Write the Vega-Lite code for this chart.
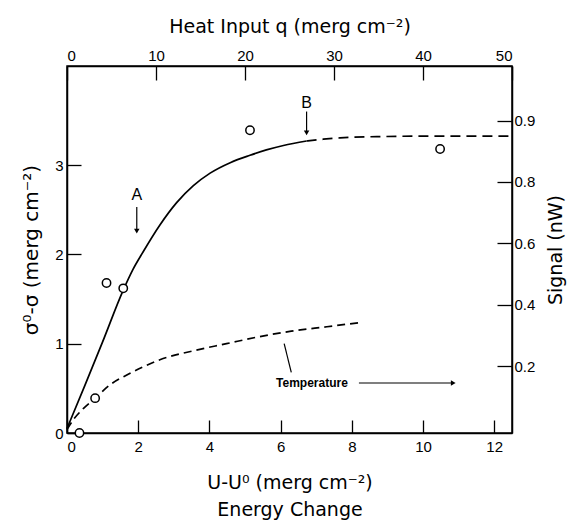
{
  "$schema": "https://vega.github.io/schema/vega-lite/v6.json",
  "autosize": "none",
  "padding": {"left": 67, "top": 66, "right": 62, "bottom": 90},
  "width": 445,
  "height": 367,
  "background": "white",
  "config": {
    "view": {"stroke": "black", "strokeWidth": 1.5},
    "font": "Liberation Sans",
    "axis": {
      "domainColor": "black", "domainWidth": 1.5, "tickColor": "black", "tickWidth": 1.3,
      "grid": false, "labelColor": "black", "titleColor": "black",
      "labelFont": "Liberation Sans", "titleFont": "DejaVu Sans",
      "labelFontSize": 15, "titleFontSize": 19, "titleFontWeight": "normal"
    }
  },
  "datasets": {
    "circles": [
      {"u": 0.35, "s": 0}, {"u": 0.79, "s": 0.39}, {"u": 1.11, "s": 1.68},
      {"u": 1.58, "s": 1.62}, {"u": 5.14, "s": 3.39}, {"u": 10.48, "s": 3.18}
    ],
    "solid": [
      {"u": 0, "s": 0.05}, {"u": 0.5, "s": 0.53}, {"u": 1.0, "s": 1.02}, {"u": 1.58, "s": 1.6},
      {"u": 1.85, "s": 1.83}, {"u": 2.14, "s": 2.03}, {"u": 2.61, "s": 2.33}, {"u": 3.08, "s": 2.58},
      {"u": 3.55, "s": 2.77}, {"u": 4.02, "s": 2.91}, {"u": 4.6, "s": 3.03}, {"u": 5.14, "s": 3.11},
      {"u": 5.6, "s": 3.17}, {"u": 6.08, "s": 3.22}, {"u": 6.73, "s": 3.27}
    ],
    "plateau": [
      {"u": 6.73, "s": 3.27}, {"u": 7.2, "s": 3.29}, {"u": 7.67, "s": 3.305}, {"u": 8.88, "s": 3.32},
      {"u": 10.28, "s": 3.325}, {"u": 12.5, "s": 3.325}
    ],
    "temperature": [
      {"u": 0, "s": 0.04}, {"u": 0.2, "s": 0.16}, {"u": 0.45, "s": 0.27}, {"u": 0.79, "s": 0.39},
      {"u": 1.21, "s": 0.54}, {"u": 1.68, "s": 0.65}, {"u": 2.14, "s": 0.74}, {"u": 2.61, "s": 0.82},
      {"u": 3.54, "s": 0.92}, {"u": 4.48, "s": 1.0}, {"u": 5.42, "s": 1.08}, {"u": 6.3, "s": 1.14},
      {"u": 7.3, "s": 1.19}, {"u": 8.3, "s": 1.24}
    ],
    "labels": [
      {"u": 1.96, "s": 2.66, "label": "A"},
      {"u": 6.73, "s": 3.7, "label": "B"}
    ],
    "arrows": [
      {"u": 1.96, "s": 2.53, "s2": 2.26},
      {"u": 6.73, "s": 3.6, "s2": 3.36}
    ],
    "temptext": [{"u": 6.88, "s": 0.56, "label": "Temperature"}],
    "temparrow": [{"u": 8.2, "u2": 10.85, "s": 0.56}],
    "templeader": [{"u": 6.3, "u2": 6.1, "s": 0.68, "s2": 1.0}],
    "signal": [{"u": 0, "signal": 0.2}]
  },
  "layer": [
    {
      "data": {"name": "solid"},
      "mark": {"type": "line", "color": "black", "strokeWidth": 1.7, "interpolate": "monotone"},
      "encoding": {
        "x": {"field": "u", "type": "quantitative", "scale": {"domain": [0, 12.5], "nice": false},
          "axis": {"orient": "bottom", "values": [0, 2, 4, 6, 8, 10, 12], "tickSize": -13, "labelPadding": 19,
            "title": ["U-U⁰  (merg  cm⁻²)", "Energy Change"], "titleLineHeight": 27, "titlePadding": 19}},
        "y": {"field": "s", "type": "quantitative", "scale": {"domain": [0, 4.11], "nice": false},
          "axis": {"orient": "left", "values": [0, 1, 2, 3], "tickSize": -14, "labelPadding": 18,
            "title": "σ⁰-σ  (merg cm⁻²)", "titleFontSize": 20, "titlePadding": 13}}
      }
    },
    {
      "data": {"name": "plateau"},
      "mark": {"type": "line", "color": "black", "strokeWidth": 1.7, "strokeDash": [10, 6], "interpolate": "monotone"},
      "encoding": {
        "x": {"field": "u", "type": "quantitative", "scale": {"domain": [0, 12.5], "nice": false}, "axis": null},
        "y": {"field": "s", "type": "quantitative", "scale": {"domain": [0, 4.11], "nice": false}, "axis": null}
      }
    },
    {
      "data": {"name": "temperature"},
      "mark": {"type": "line", "color": "black", "strokeWidth": 1.7, "strokeDash": [8, 5], "interpolate": "monotone"},
      "encoding": {
        "x": {"field": "u", "type": "quantitative", "scale": {"domain": [0, 12.5], "nice": false}, "axis": null},
        "y": {"field": "s", "type": "quantitative", "scale": {"domain": [0, 4.11], "nice": false}, "axis": null}
      }
    },
    {
      "data": {"name": "circles"},
      "mark": {"type": "point", "shape": "circle", "filled": false, "fill": "white", "fillOpacity": 1, "stroke": "black", "strokeWidth": 1.5, "size": 70, "opacity": 1},
      "encoding": {
        "x": {"field": "u", "type": "quantitative", "scale": {"domain": [0, 12.5], "nice": false}, "axis": null},
        "y": {"field": "s", "type": "quantitative", "scale": {"domain": [0, 4.11], "nice": false}, "axis": null}
      }
    },
    {
      "data": {"name": "labels"},
      "mark": {"type": "text", "font": "Liberation Sans", "fontSize": 16, "color": "black"},
      "encoding": {
        "x": {"field": "u", "type": "quantitative", "scale": {"domain": [0, 12.5], "nice": false}, "axis": null},
        "y": {"field": "s", "type": "quantitative", "scale": {"domain": [0, 4.11], "nice": false}, "axis": null},
        "text": {"field": "label"}
      }
    },
    {
      "data": {"name": "arrows"},
      "mark": {"type": "rule", "color": "black", "strokeWidth": 1.2},
      "encoding": {
        "x": {"field": "u", "type": "quantitative", "scale": {"domain": [0, 12.5], "nice": false}, "axis": null},
        "y": {"field": "s", "type": "quantitative", "scale": {"domain": [0, 4.11], "nice": false}, "axis": null},
        "y2": {"field": "s2"}
      }
    },
    {
      "data": {"name": "arrows"},
      "mark": {"type": "point", "shape": "triangle-down", "filled": true, "color": "black", "size": 30, "opacity": 1},
      "encoding": {
        "x": {"field": "u", "type": "quantitative", "scale": {"domain": [0, 12.5], "nice": false}, "axis": null},
        "y": {"field": "s2", "type": "quantitative", "scale": {"domain": [0, 4.11], "nice": false}, "axis": null}
      }
    },
    {
      "data": {"name": "temptext"},
      "mark": {"type": "text", "font": "Liberation Sans", "fontSize": 12, "fontWeight": "bold", "color": "black"},
      "encoding": {
        "x": {"field": "u", "type": "quantitative", "scale": {"domain": [0, 12.5], "nice": false}, "axis": null},
        "y": {"field": "s", "type": "quantitative", "scale": {"domain": [0, 4.11], "nice": false}, "axis": null},
        "text": {"field": "label"}
      }
    },
    {
      "data": {"name": "temparrow"},
      "mark": {"type": "rule", "color": "black", "strokeWidth": 1.2},
      "encoding": {
        "x": {"field": "u", "type": "quantitative", "scale": {"domain": [0, 12.5], "nice": false}, "axis": null},
        "x2": {"field": "u2"},
        "y": {"field": "s", "type": "quantitative", "scale": {"domain": [0, 4.11], "nice": false}, "axis": null}
      }
    },
    {
      "data": {"name": "temparrow"},
      "mark": {"type": "point", "shape": "triangle-right", "filled": true, "color": "black", "size": 30, "opacity": 1},
      "encoding": {
        "x": {"field": "u2", "type": "quantitative", "scale": {"domain": [0, 12.5], "nice": false}, "axis": null},
        "y": {"field": "s", "type": "quantitative", "scale": {"domain": [0, 4.11], "nice": false}, "axis": null}
      }
    },
    {
      "data": {"name": "templeader"},
      "mark": {"type": "rule", "color": "black", "strokeWidth": 1.2},
      "encoding": {
        "x": {"field": "u", "type": "quantitative", "scale": {"domain": [0, 12.5], "nice": false}, "axis": null},
        "x2": {"field": "u2"},
        "y": {"field": "s", "type": "quantitative", "scale": {"domain": [0, 4.11], "nice": false}, "axis": null},
        "y2": {"field": "s2"}
      }
    },
    {
      "data": {"name": "signal"},
      "mark": {"type": "point", "opacity": 0},
      "encoding": {
        "x": {"field": "u", "type": "quantitative", "scale": {"domain": [0, 12.5], "nice": false},
          "axis": {"orient": "top", "values": [0, 2.5, 5, 7.5, 10, 12.5], "labelExpr": "format(datum.value * 4, 'd')",
            "tickSize": -14, "labelPadding": 17, "title": "Heat Input q (merg cm⁻²)", "titlePadding": 12}},
        "y": {"field": "signal", "type": "quantitative", "scale": {"domain": [-0.018, 1.178], "nice": false, "zero": false},
          "axis": {"orient": "right", "values": [0.2, 0.4, 0.6, 0.8, 1.0],
            "labelExpr": "datum.value > 0.95 ? '0.9' : format(datum.value, '.1f')",
            "tickSize": -15, "labelPadding": 17, "title": "Signal (nW)", "titleAngle": 270, "titlePadding": 31}}
      }
    }
  ],
  "resolve": {"scale": {"y": "independent"}, "axis": {"x": "independent", "y": "independent"}}
}
